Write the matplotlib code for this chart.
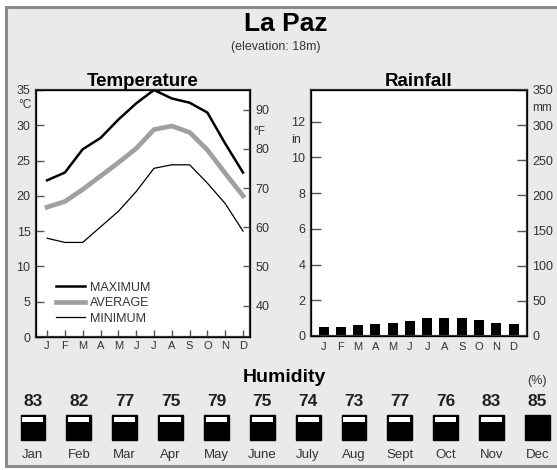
import numpy as np
import matplotlib
matplotlib.use("Agg")
from matplotlib import pyplot as plt
from matplotlib.patches import Rectangle

plt.rcParams['font.family'] = ['Liberation Sans', 'DejaVu Sans']

# Datos
meses_cortos = ["J", "F", "M", "A", "M", "J", "J", "A", "S", "O", "N", "D"]
meses = ["Jan", "Feb", "Mar", "Apr", "May", "June", "July", "Aug", "Sept", "Oct", "Nov", "Dec"]
temp_max = [22.2, 23.3, 26.6, 28.2, 30.8, 33.1, 35.0, 33.8, 33.2, 31.8, 27.4, 23.3]
temp_avg = [18.4, 19.2, 20.9, 22.8, 24.7, 26.7, 29.4, 29.9, 29.0, 26.5, 23.2, 20.0]
temp_min = [14.0, 13.4, 13.4, 15.6, 17.8, 20.6, 23.9, 24.4, 24.4, 21.8, 18.9, 15.0]
lluvia_mm = [13, 13, 15, 17, 19, 21, 25, 26, 26, 23, 18, 17]
humedad = [83, 82, 77, 75, 79, 75, 74, 73, 77, 76, 83, 85]

W, H = 557, 470
gris_txt = "#333333"

def px_axes(fig, left, top, right, bottom):
    """Crea unos ejes a partir de coordenadas en pixeles."""
    return fig.add_axes([left / W, 1 - bottom / H, (right - left) / W, (bottom - top) / H])

fig = plt.figure(figsize=(W / 100, H / 100), dpi=100, facecolor="white")

# Fondo y marco
fig.patches.append(Rectangle((5.5 / W, 4 / H), (W + 10) / W, (H - 11) / H,
                             transform=fig.transFigure, facecolor="#eaeaea",
                             edgecolor="#8c8c8c", linewidth=2.2, zorder=-10))

fig.text(286 / W, 1 - 24 / H, "La Paz", ha="center", va="center",
         fontsize=19, fontweight="bold")
fig.text(276 / W, 1 - 47 / H, "(elevation: 18m)", ha="center", va="center",
         fontsize=9, color=gris_txt)

x = np.arange(12)

# ---------- Temperatura ----------
ax_t = px_axes(fig, 36, 90, 250, 337)
ax_t.set_facecolor("white")
ax_t.plot(x, temp_max, color="black", lw=1.8, label="MAXIMUM")
ax_t.plot(x, temp_avg, color="#a0a0a0", lw=3.4, label="AVERAGE")
ax_t.plot(x, temp_min, color="black", lw=0.9, label="MINIMUM")
ax_t.set_xlim(-0.62, 11.39)
ax_t.set_ylim(0, 35)
ax_t.set_yticks(range(0, 36, 5))
ax_t.set_xticks(x)
ax_t.set_xticklabels(meses_cortos)
ax_t.tick_params(axis="y", direction="in", length=6, width=1, colors="#555555",
                 labelcolor=gris_txt, labelsize=9, pad=4)
ax_t.tick_params(axis="x", direction="in", length=5, width=1, colors="#555555",
                 labelcolor=gris_txt, labelsize=8, pad=3)
for s in ax_t.spines.values():
    s.set_linewidth(1.6)
    s.set_color("#333333")
ax_t.set_title("Temperature", fontsize=13.5, fontweight="bold", pad=3)
ax_t.text(-0.02, 0.94, "°C", transform=ax_t.transAxes, ha="right", va="center",
          fontsize=8.5, color=gris_txt)
leg = ax_t.legend(loc="lower left", bbox_to_anchor=(0.04, 0.005), frameon=False,
                  fontsize=9, handlelength=2.3, handletextpad=0.4, labelspacing=0.28)
for t in leg.get_texts():
    t.set_color(gris_txt)

ax_f = ax_t.twinx()
ax_f.set_ylim(32, 95)
ax_f.set_yticks(range(40, 91, 10))
ax_f.tick_params(axis="y", direction="in", length=5, width=1, colors="#555555",
                 labelcolor=gris_txt, labelsize=9, pad=4)
ax_f.text(1.015, 0.83, "°F", transform=ax_f.transAxes, ha="left", va="center",
          fontsize=8.5, color=gris_txt)

# ---------- Lluvia ----------
ax_r = px_axes(fig, 311, 90, 527, 336)
ax_r.set_facecolor("white")
lluvia_in = np.array(lluvia_mm) / 25.4
ax_r.bar(x, lluvia_in, width=0.58, color="black")
ax_r.set_xlim(-0.73, 11.78)
ax_r.set_ylim(0, 350 / 25.4)
ax_r.set_yticks(range(0, 13, 2))
ax_r.set_xticks(x)
ax_r.set_xticklabels(meses_cortos)
ax_r.tick_params(axis="y", direction="in", length=7, width=1, colors="#555555",
                 labelcolor=gris_txt, labelsize=9, pad=4)
ax_r.tick_params(axis="x", length=0, labelcolor=gris_txt, labelsize=8, pad=4)
for s in ax_r.spines.values():
    s.set_linewidth(1.6)
    s.set_color("#333333")
ax_r.set_title("Rainfall", fontsize=13.5, fontweight="bold", pad=3)
ax_r.text(-0.045, 0.795, "in", transform=ax_r.transAxes, ha="right", va="center",
          fontsize=9, color=gris_txt)

ax_mm = ax_r.twinx()
ax_mm.set_ylim(0, 350)
ax_mm.set_yticks(range(0, 351, 50))
ax_mm.tick_params(axis="y", direction="in", length=7, width=1, colors="#555555",
                  labelcolor=gris_txt, labelsize=9, pad=4)
ax_mm.text(1.025, 0.925, "mm", transform=ax_mm.transAxes, ha="left", va="center",
           fontsize=8.5, color=gris_txt)

# ---------- Humedad ----------
ax_h = px_axes(fig, 10, 360, 560.4, 470)
ax_h.set_xlim(-0.5, 11.5)
ax_h.set_ylim(470, 360)
ax_h.axis("off")
ax_h.bar(x, 25, bottom=414.5, width=0.54, color="black", edgecolor="black", lw=1)
for i, h in enumerate(humedad):
    if h < max(humedad):
        ax_h.bar(i, 5.5, bottom=416.8, width=0.46, color="white", lw=0)
    ax_h.text(i, 401, str(h), ha="center", va="center", fontsize=12.5,
              fontweight="bold", color="#222222")
    ax_h.text(i, 455, meses[i], ha="center", va="center", fontsize=9.5, color=gris_txt)
ax_h.text(11, 381, "(%)", ha="center", va="center", fontsize=9, color=gris_txt)
fig.text(284 / W, 1 - 377 / H, "Humidity", ha="center", va="center",
         fontsize=14, fontweight="bold")

fig.savefig("out.png", dpi=100, facecolor=fig.get_facecolor())
